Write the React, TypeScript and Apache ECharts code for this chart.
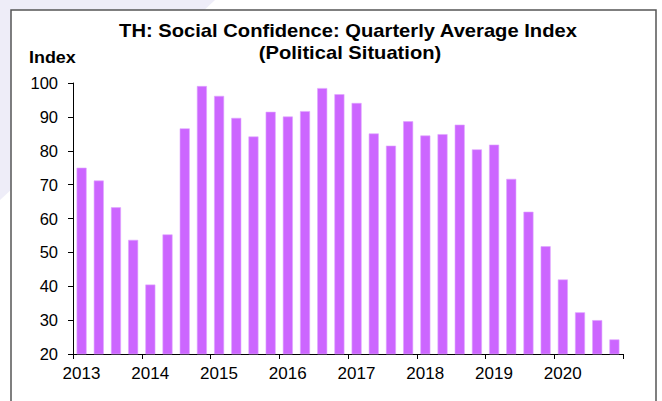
import React, { useEffect, useRef } from "react";
import * as echarts from "echarts";

const startYear = 2013;
const yearLabels = ["2013", "2014", "2015", "2016", "2017", "2018", "2019", "2020"];
const quarterlyIndex = [
  75, 71.2, 63.3, 53.7,
  40.5, 55.3, 86.6, 99.1,
  96.2, 89.7, 84.2, 91.5,
  90.1, 91.7, 98.5, 96.7,
  94.1, 85.1, 81.5, 88.7,
  84.5, 84.9, 87.7, 80.4,
  81.8, 71.7, 62.0, 51.8,
  42.0, 32.3, 30.0, 24.3,
];
const titleLine1 = "TH: Social Confidence: Quarterly Average Index";
const titleLine2 = "(Political Situation)";
const yAxisName = "Index";

export default function App() {
  const ref = useRef<HTMLDivElement>(null);
  useEffect(() => {
    if (!ref.current) return;
    const chart = echarts.init(ref.current, null, { renderer: "svg" });
    const font = "'Liberation Sans', Arial, sans-serif";
    const data = quarterlyIndex.map((v, i) => [i + 0.5, v]);
    chart.setOption({
      animation: false,
      backgroundColor: "#ffffff",
      graphic: [
        {
          type: "polygon",
          z: -10,
          shape: { points: [[0, 0], [215, 0], [0, 200]] },
          style: { fill: "#eeedf8" },
        },
        {
          type: "rect",
          z: -5,
          shape: { x: 11, y: 10, width: 645, height: 420 },
          style: { fill: "#ffffff", stroke: "#555555", lineWidth: 1.5 },
        },
        {
          type: "text",
          x: 348,
          y: 22,
          scaleX: 1.12,
          style: {
            text: titleLine1,
            fontSize: 18,
            fontWeight: "bold",
            fontFamily: font,
            fill: "#000",
            textAlign: "center",
            textVerticalAlign: "top",
          },
        },
        {
          type: "text",
          x: 350,
          y: 44,
          scaleX: 1.12,
          style: {
            text: titleLine2,
            fontSize: 18,
            fontWeight: "bold",
            fontFamily: font,
            fill: "#000",
            textAlign: "center",
            textVerticalAlign: "top",
          },
        },
        {
          type: "text",
          x: 29,
          y: 50,
          scaleX: 1.12,
          style: {
            text: yAxisName,
            fontSize: 16,
            fontWeight: "bold",
            fontFamily: font,
            fill: "#000",
            textAlign: "left",
            textVerticalAlign: "top",
          },
        },
      ],
      grid: { left: 73, right: 39, top: 83, bottom: 47 },
      xAxis: {
        type: "value",
        min: 0,
        max: 32,
        interval: 4,
        splitLine: { show: false },
        axisLine: { show: true, lineStyle: { color: "#000", width: 1 } },
        axisTick: { show: true, length: 5, lineStyle: { color: "#000" } },
        axisLabel: {
          fontSize: 17,
          fontFamily: font,
          color: "#000",
          margin: 11,
          padding: [0, 0, 0, 17],
          formatter: (v: number) => {
            const idx = Math.round(v / 4);
            return v < 32 ? yearLabels[idx] ?? String(startYear + idx) : "";
          },
        },
      },
      yAxis: {
        type: "value",
        min: 20,
        max: 100,
        interval: 10,
        splitLine: { show: false },
        axisLine: { show: true, lineStyle: { color: "#000", width: 1 } },
        axisTick: { show: true, length: 5, lineStyle: { color: "#000" } },
        axisLabel: { fontSize: 16.5, fontFamily: font, color: "#000", margin: 15 },
      },
      series: [
        {
          type: "bar",
          data,
          barWidth: 10,
          itemStyle: { color: "#cc66ff", borderColor: "#dfa6ff", borderWidth: 0.6 },
        },
      ],
    });
    return () => chart.dispose();
  }, []);
  return (
    <div
      ref={ref}
      style={{ position: "fixed", left: 0, top: 0, width: 662, height: 401 }}
    />
  );
}
